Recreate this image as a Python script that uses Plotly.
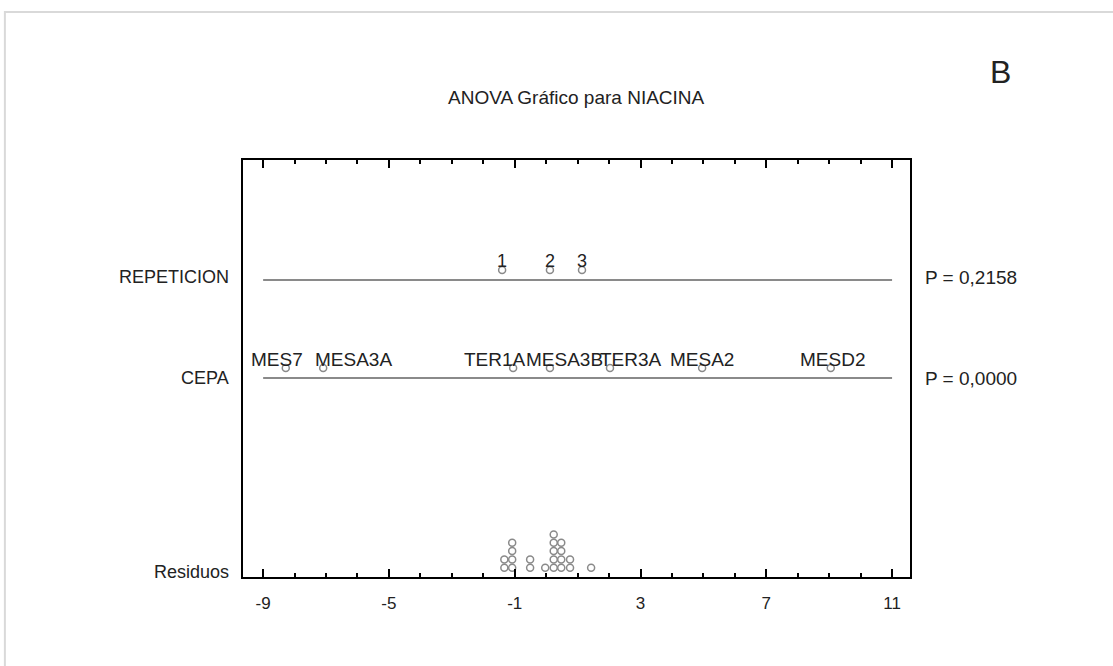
import plotly.graph_objects as go

# ---------------- data ----------------
rep_levels = ["1", "2", "3"]
rep_effects = [-1.40, 0.12, 1.14]
cepa_levels = ["MES7", "MESA3A", "TER1A", "MESA3B", "TER3A", "MESA2", "MESD2"]
cepa_effects = [-8.28, -7.09, -1.05, 0.12, 2.03, 4.96, 9.05]
residuals = [-1.33, -1.33, -1.08, -1.08, -1.08, -1.08, -0.51, -0.51, -0.03,
             0.24, 0.24, 0.24, 0.24, 0.24, 0.48, 0.48, 0.48, 0.48,
             0.76, 0.76, 1.43]
p_values = ["P = 0,2158", "P = 0,0000"]
row_names = ["REPETICION", "CEPA", "Residuos"]
x_ticks = [-9, -5, -1, 3, 7, 11]
x_tick_text = ["-9", "-5", "-1", "3", "7", "11"]
title_text = "ANOVA Gráfico para NIACINA"
panel_letter = "B"

# ---------------- layout constants (pixels above plot bottom) ----------------
FONT = "Liberation Sans, Arial, sans-serif"
TXT = "#222222"
GRAY = "#8a8a8a"
ROW_LINE = {"REPETICION": 297, "CEPA": 199}
PT_OFF = 10
RES_BASE = 9.3
RES_STEP = 8.3
X_RANGE = [-9.64, 11.57]
cepa_label_shift = [-9, 30, -18, 15, 21, 0, 2]

fig = go.Figure()

marker_style = dict(symbol="circle-open", size=7, color=GRAY, line=dict(width=1.5))

# REPETICION points
fig.add_trace(go.Scatter(
    x=rep_effects, y=[ROW_LINE["REPETICION"] + PT_OFF] * len(rep_effects),
    mode="markers", marker=marker_style, hoverinfo="x", showlegend=False))
# CEPA points
fig.add_trace(go.Scatter(
    x=cepa_effects, y=[ROW_LINE["CEPA"] + PT_OFF] * len(cepa_effects),
    mode="markers", marker=marker_style, hoverinfo="x", showlegend=False))

# residual dot plot (stack equal values)
res_y = []
seen = {}
for v in residuals:
    k = seen.get(v, 0)
    seen[v] = k + 1
    res_y.append(RES_BASE + RES_STEP * k)
fig.add_trace(go.Scatter(
    x=residuals, y=res_y, mode="markers", marker=marker_style,
    hoverinfo="x", showlegend=False))

# invisible trace to activate the top axis
fig.add_trace(go.Scatter(x=[x_ticks[0]], y=[0], xaxis="x2", mode="markers",
                         marker=dict(opacity=0), hoverinfo="skip", showlegend=False))

shapes = []
for name in ["REPETICION", "CEPA"]:
    shapes.append(dict(type="line", xref="x", yref="y", x0=x_ticks[0], x1=x_ticks[-1],
                       y0=ROW_LINE[name], y1=ROW_LINE[name], line=dict(color=GRAY, width=2)))
# outer light frame
shapes.append(dict(type="rect", xref="paper", yref="paper", x0=-0.357, x1=1.32,
                   y0=-0.26, y1=1.355, line=dict(color="#d9d9d9", width=2), layer="below"))

annotations = []
for lbl, v in zip(rep_levels, rep_effects):
    annotations.append(dict(x=v, y=ROW_LINE["REPETICION"] + PT_OFF, xref="x", yref="y",
                            text=lbl, showarrow=False, yshift=9, yanchor="middle",
                            font=dict(family=FONT, size=18, color=TXT)))
for lbl, v, s in zip(cepa_levels, cepa_effects, cepa_label_shift):
    annotations.append(dict(x=v, y=ROW_LINE["CEPA"] + PT_OFF, xref="x", yref="y",
                            text=lbl, showarrow=False, yshift=9, xshift=s, yanchor="middle",
                            font=dict(family=FONT, size=19, color=TXT)))
row_y = [ROW_LINE["REPETICION"] + 3, ROW_LINE["CEPA"], 5]
for name, yy in zip(row_names, row_y):
    annotations.append(dict(x=0, y=yy, xref="paper", yref="y", text=name, showarrow=False,
                            xanchor="right", yanchor="middle", xshift=-12,
                            font=dict(family=FONT, size=18, color=TXT)))
for pv, yy in zip(p_values, row_y[:2]):
    annotations.append(dict(x=1, y=yy, xref="paper", yref="y", text=pv, showarrow=False,
                            xanchor="left", yanchor="middle", xshift=13,
                            font=dict(family=FONT, size=19, color=TXT)))
annotations.append(dict(x=0.5, y=1, xref="paper", yref="paper", text=title_text,
                        showarrow=False, yshift=63, yanchor="middle",
                        font=dict(family=FONT, size=19, color=TXT)))
annotations.append(dict(x=1.135, y=1.211, xref="paper", yref="paper", text=panel_letter,
                        showarrow=False, yanchor="middle", xanchor="center",
                        font=dict(family=FONT, size=32, color=TXT)))

axis_ticks = dict(tickvals=x_ticks, ticks="inside", ticklen=8, tickwidth=1.5,
                  tickcolor="black", showline=True, linewidth=2, linecolor="black",
                  showgrid=False, zeroline=False, range=X_RANGE,
                  minor=dict(ticks="inside", dtick=1, tick0=-9, ticklen=4, tickwidth=1.5,
                             tickcolor="black", showgrid=False))

fig.update_layout(
    width=1113, height=666,
    margin=dict(l=243, r=203, t=160, b=89),
    paper_bgcolor="white", plot_bgcolor="white",
    shapes=shapes, annotations=annotations,
    xaxis=dict(**axis_ticks, ticktext=x_tick_text, ticklabelstandoff=10,
               tickfont=dict(family=FONT, size=17, color=TXT)),
    xaxis2=dict(**axis_ticks, overlaying="x", side="top", anchor="y",
                showticklabels=False),
    yaxis=dict(range=[0, 417], showline=True, mirror=True, linewidth=2, linecolor="black",
               showticklabels=False, ticks="", showgrid=False, zeroline=False),
)

fig.write_html("out.html")
